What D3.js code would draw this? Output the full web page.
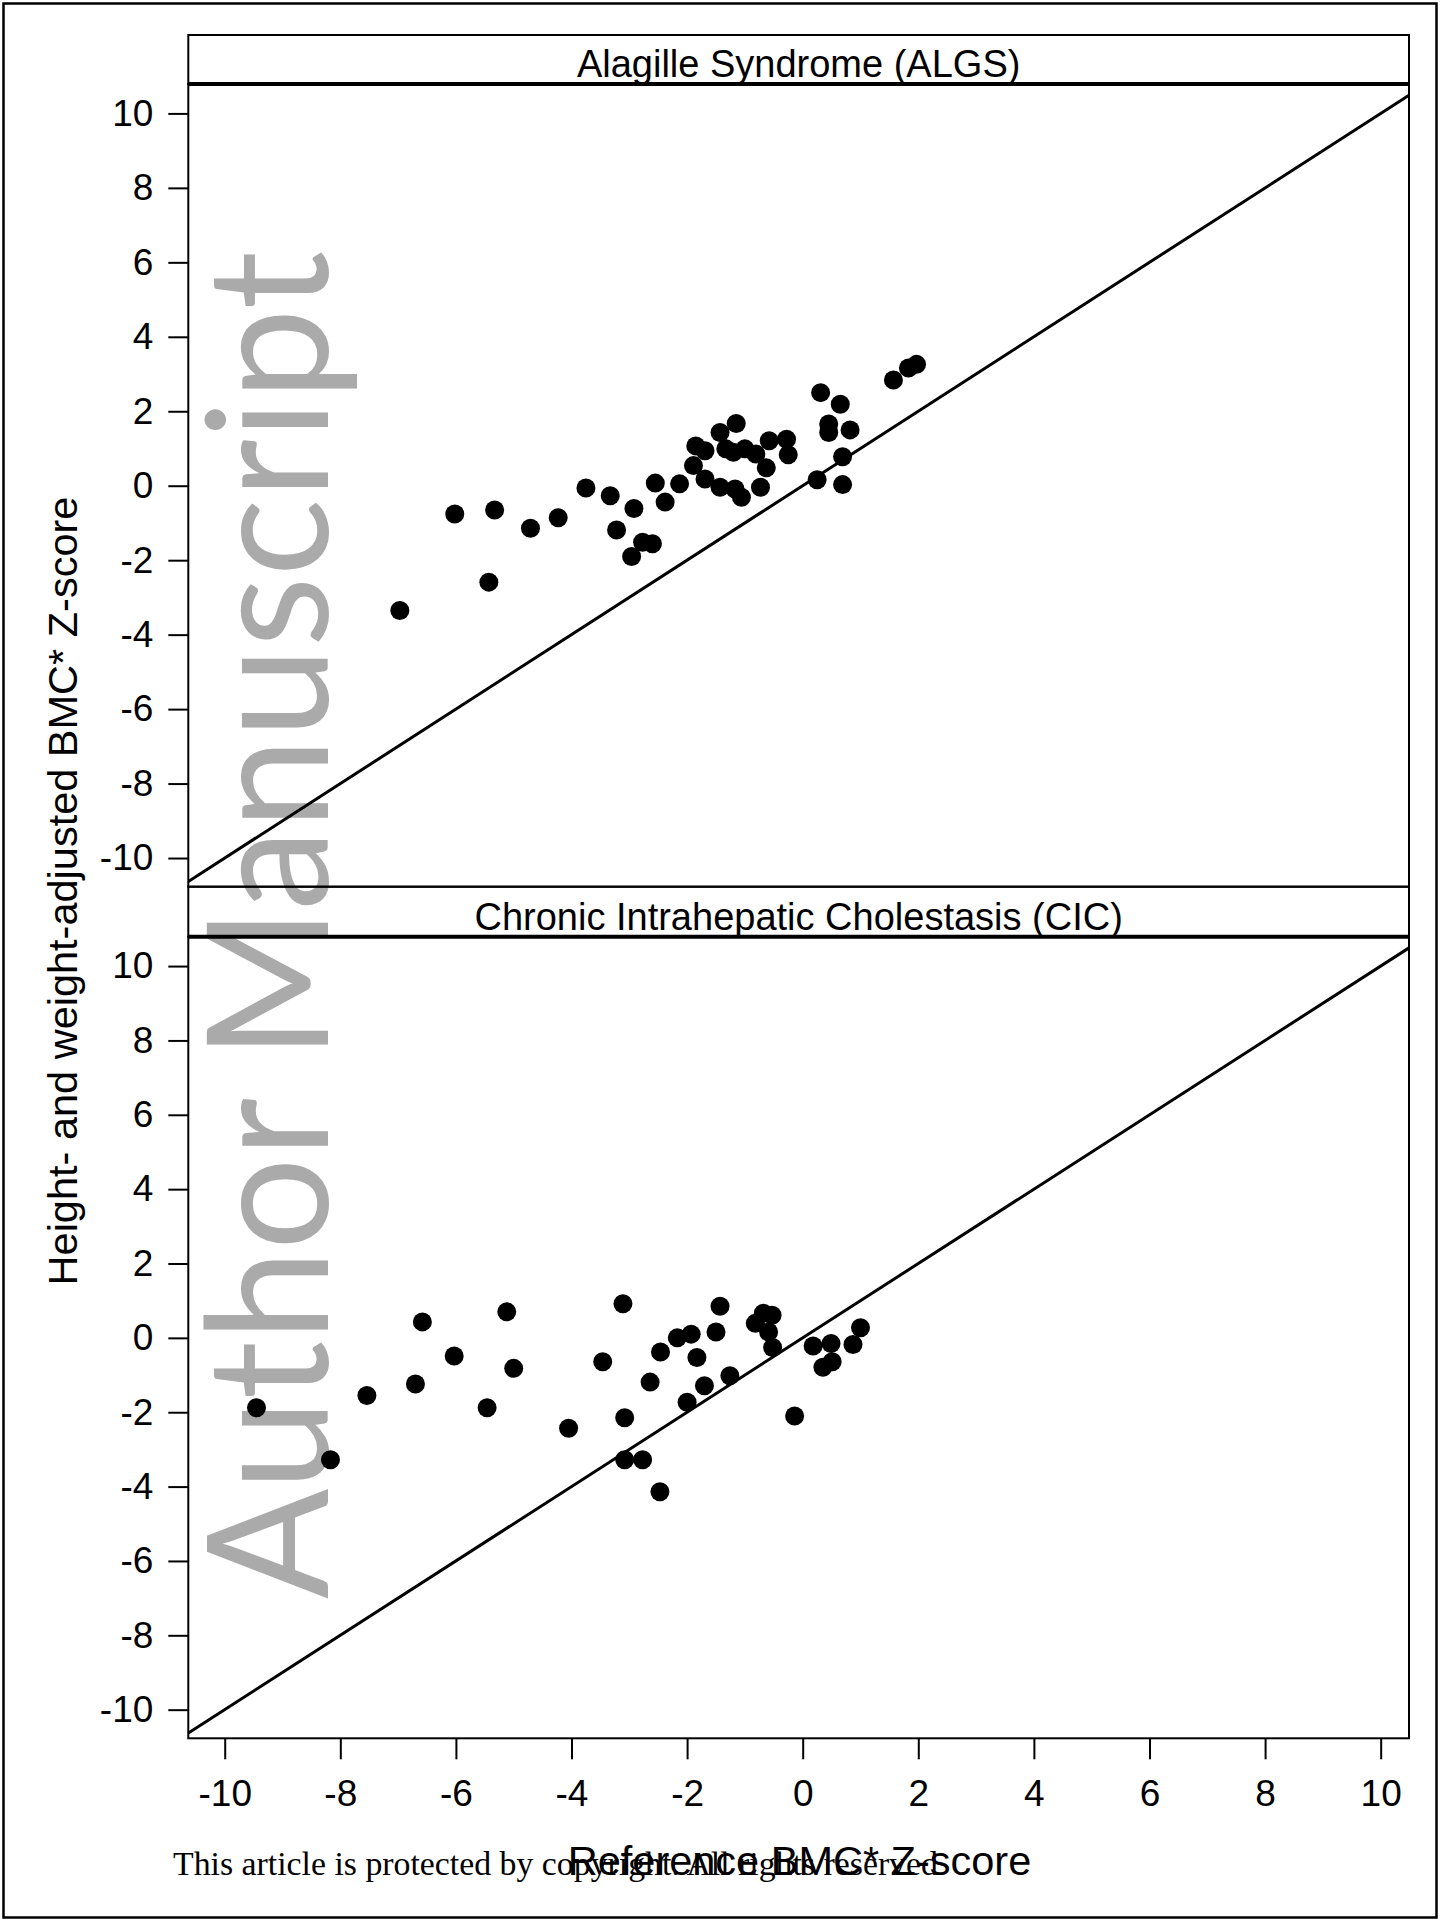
<!DOCTYPE html>
<html>
<head>
<meta charset="utf-8">
<script src="https://cdn.jsdelivr.net/npm/d3@7"></script>
<style>
  body { margin: 0; background: #fff; }
  svg { display: block; }
  text { font-family: "Liberation Sans", Arial, sans-serif; fill: #000; }
</style>
</head>
<body>
<div id="chart"></div>
<script>
// Alagille Syndrome (ALGS) panel
const algsRef = [-6.97, -6.02, -5.33, -5.43, -4.71, -4.23, -3.75, -3.33, -3.22, -2.92, -2.96,
  -2.77, -2.60, -2.55, -2.38, -2.13, -1.85, -1.89, -1.69, -1.69, -1.43, -1.15, -1.33, -1.20,
  -1.00, -1.43, -1.17, -1.06, -0.81, -0.58, -0.28, -0.25, -0.63, -0.73, 0.25, 0.31, 0.65,
  0.45, 0.45, 0.82, 0.69, 0.69, 1.57, 1.83, 1.97];
const algsAdj = [-3.35, -0.76, -0.65, -2.59, -1.14, -0.86, -0.06, -0.27, -1.19, -0.61, -1.90,
  -1.52, -1.56, 0.07, -0.44, 0.05, 1.07, 0.54, 0.94, 0.18, 1.43, 1.67, 0.99, 0.90,
  0.99, -0.04, -0.09, -0.31, 0.85, 1.21, 1.25, 0.83, 0.48, -0.04, 0.16, 2.50, 2.19,
  1.66, 1.43, 1.50, 0.78, 0.03, 2.84, 3.16, 3.26];

// Chronic Intrahepatic Cholestasis (CIC) panel
const cicRef = [-9.45, -8.17, -7.54, -6.70, -6.58, -6.03, -5.46, -5.12, -5.00, -4.05, -3.46,
  -3.11, -3.08, -3.08, -2.77, -2.47, -2.64, -2.46, -2.17, -1.93, -1.83, -2.00, -1.70,
  -1.43, -1.50, -1.26, -0.68, -0.82, -0.53, -0.59, -0.52, -0.14, 0.18, 0.49, 0.35, 0.51,
  0.87, 1.00];
const cicAdj = [-1.88, -3.28, -1.55, -1.24, 0.43, -0.49, -1.88, 0.70, -0.82, -2.43, -0.64,
  0.92, -2.15, -3.28, -3.28, -4.14, -1.19, -0.38, 0.00, 0.10, -0.53, -1.73, -1.29,
  0.85, 0.16, -1.02, 0.66, 0.39, 0.61, 0.16, -0.26, -2.10, -0.22, -0.15, -0.79, -0.64,
  -0.18, 0.27];

const tickValues = [-10, -8, -6, -4, -2, 0, 2, 4, 6, 8, 10];
const panelTitles = ["Alagille Syndrome (ALGS)", "Chronic Intrahepatic Cholestasis (CIC)"];

var width = 1442, height = 1921;
var left = 188.3, right = 1409;

var svg = d3.select('#chart')
  .append('svg')
  .attr('width', width)
  .attr('height', height);

svg.append('rect').attr('width', width).attr('height', height).attr('fill', '#fff');

// watermark sits under the chart
svg.append('text')
  .attr('transform', 'translate(328,1599) rotate(-90)')
  .attr('font-size', 168)
  .attr('textLength', 1348)
  .attr('lengthAdjust', 'spacingAndGlyphs')
  .style('fill', '#aaaaaa')
  .style('font-family', 'Lato, "Open Sans", sans-serif')
  .text('Author Manuscript');

// page frame
svg.append('rect')
  .attr('x', 3.5).attr('y', 3.5)
  .attr('width', 1433).attr('height', 1914)
  .attr('fill', 'none').attr('stroke', '#000').attr('stroke-width', 2.5);

var x = d3.scaleLinear().domain([-10.63, 10.49]).range([left, right]);

// plain hyphen for negatives, like the original
var fmt = d => String(d);

var panels = [
  { title: panelTitles[0], ref: algsRef, adj: algsAdj, stripTop: 35, top: 84, bottom: 886.7 },
  { title: panelTitles[1], ref: cicRef, adj: cicAdj, stripTop: 886.7, top: 936.7, bottom: 1738.3 }
];

panels.forEach(function (p, k) {
  var y = d3.scaleLinear().domain([-10.77, 10.79]).range([p.bottom, p.top]);

  svg.append('clipPath').attr('id', 'clip' + k)
    .append('rect')
    .attr('x', left).attr('y', p.top)
    .attr('width', right - left).attr('height', p.bottom - p.top);

  // strip box
  svg.append('rect')
    .attr('x', left).attr('y', p.stripTop)
    .attr('width', right - left).attr('height', p.top - p.stripTop)
    .attr('fill', 'none').attr('stroke', '#000').attr('stroke-width', 2);
  svg.append('line')
    .attr('x1', left).attr('x2', right)
    .attr('y1', p.top).attr('y2', p.top)
    .attr('stroke', '#000').attr('stroke-width', 4);
  svg.append('text')
    .attr('x', (left + right) / 2).attr('y', p.top - 7)
    .attr('text-anchor', 'middle')
    .attr('font-size', 38)
    .text(p.title);

  // plot frame
  svg.append('rect')
    .attr('x', left).attr('y', p.top)
    .attr('width', right - left).attr('height', p.bottom - p.top)
    .attr('fill', 'none').attr('stroke', '#000').attr('stroke-width', 2);

  // y axis
  var yAxis = svg.append('g')
    .attr('transform', `translate(${left},0)`)
    .call(d3.axisLeft(y).tickValues(tickValues).tickSize(20).tickPadding(15).tickFormat(fmt));
  yAxis.select('.domain').remove();
  yAxis.selectAll('line').attr('stroke', '#000').attr('stroke-width', 2);
  yAxis.selectAll('text')
    .attr('font-size', 37)
    .attr('font-family', '"Liberation Sans", Arial, sans-serif')
    .attr('fill', '#000');

  // identity line
  var g = svg.append('g').attr('clip-path', `url(#clip${k})`);
  var dom = x.domain();
  g.append('line')
    .attr('x1', x(dom[0])).attr('y1', y(dom[0]))
    .attr('x2', x(dom[1])).attr('y2', y(dom[1]))
    .attr('stroke', '#000').attr('stroke-width', 3);

  // points
  g.selectAll('circle')
    .data(p.ref)
    .enter()
    .append('circle')
    .attr('cx', d => x(d))
    .attr('cy', (d, i) => y(p.adj[i]))
    .attr('r', 9.5)
    .attr('fill', '#000');

  if (k === 1) {
    var xAxis = svg.append('g')
      .attr('transform', `translate(0,${p.bottom})`)
      .call(d3.axisBottom(x).tickValues(tickValues).tickSize(21).tickPadding(20).tickFormat(fmt));
    xAxis.select('.domain').remove();
    xAxis.selectAll('line').attr('stroke', '#000').attr('stroke-width', 2);
    xAxis.selectAll('text')
      .attr('font-size', 37)
      .attr('font-family', '"Liberation Sans", Arial, sans-serif')
      .attr('fill', '#000');
  }
});

// axis titles
svg.append('text')
  .attr('transform', 'translate(77,891) rotate(-90)')
  .attr('text-anchor', 'middle')
  .attr('font-size', 41.5)
  .text('Height- and weight-adjusted BMC* Z-score');

svg.append('text')
  .attr('x', 799.5).attr('y', 1875)
  .attr('text-anchor', 'middle')
  .attr('font-size', 41.5)
  .text('Reference BMC* Z-score');

// footer notice (overlaps the x title in the original too)
svg.append('text')
  .attr('x', 173).attr('y', 1875)
  .attr('font-size', 33.7)
  .attr('textLength', 765)
  .attr('lengthAdjust', 'spacingAndGlyphs')
  .style('font-family', '"Liberation Serif", "DejaVu Serif", serif')
  .text('This article is protected by copyright. All rights reserved');
</script>
</body>
</html>
